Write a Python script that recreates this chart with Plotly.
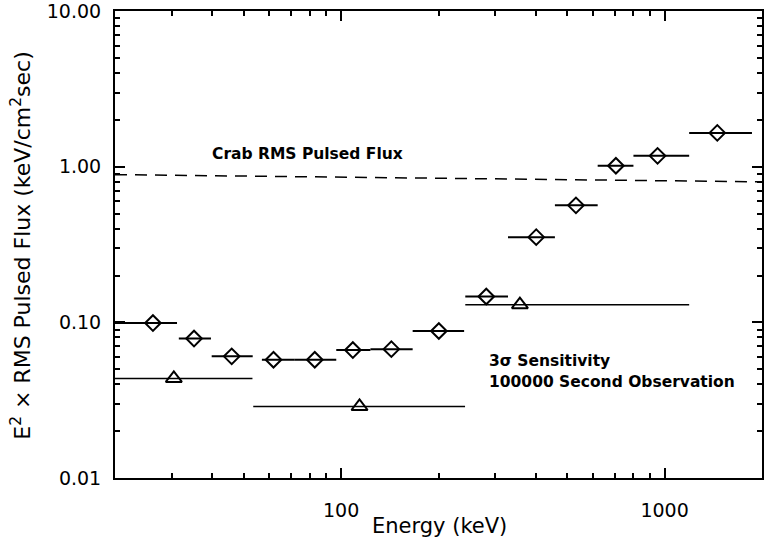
import plotly.graph_objects as go

# Pulsed flux measurements (diamonds)
energy_diamond = [26.2, 35.1, 45.9, 61.8, 82.9, 108.7, 143, 200.5, 281, 401, 532, 707, 951, 1455]
flux_diamond = [0.099, 0.0787, 0.0605, 0.0575, 0.0575, 0.0664, 0.0673, 0.088, 0.1466, 0.353, 0.565, 1.015, 1.175, 1.65]
bin_lo = [20, 31.5, 39.8, 56.9, 71.6, 96.6, 123.2, 166.4, 242, 328, 458, 621, 801, 1191]
bin_hi = [31.1, 39.6, 53.3, 71.6, 96.6, 123.2, 166.4, 240, 328, 458, 621, 801, 1191, 1862]

# 3 sigma sensitivity (triangles)
sens_energy = [30.4, 114, 357]
sens_flux = [0.0436, 0.0288, 0.130]
sens_lo = [20, 53.5, 242]
sens_hi = [53.2, 241.6, 1191]

# Crab RMS pulsed flux (dashed)
crab_energy = [20, 2000]
crab_flux = [0.89, 0.80]

y_tickvals = [0.01, 0.1, 1, 10]
y_ticktext = ["0.01", "0.10", "1.00", "10.00"]
x_tickvals = [100, 1000]
x_ticktext = ["100", "1000"]

FONT = "DejaVu Sans"

fig = go.Figure()

fig.add_trace(go.Scatter(
    x=crab_energy, y=crab_flux, mode="lines",
    line=dict(color="black", width=1.5, dash="12px,8px"),
    showlegend=False, hoverinfo="skip"))

fig.add_trace(go.Scatter(
    x=sens_energy, y=sens_flux, mode="markers",
    marker=dict(symbol="triangle-up-open", size=14, color="black", line=dict(width=2, color="black")),
    error_x=dict(type="data", symmetric=False,
                 array=[h - e for h, e in zip(sens_hi, sens_energy)],
                 arrayminus=[e - l for e, l in zip(sens_energy, sens_lo)],
                 width=0, thickness=1.5, color="black"),
    showlegend=False))

fig.add_trace(go.Scatter(
    x=energy_diamond, y=flux_diamond, mode="markers",
    marker=dict(symbol="diamond-open", size=12, color="black", line=dict(width=2, color="black")),
    error_x=dict(type="data", symmetric=False,
                 array=[h - e for h, e in zip(bin_hi, energy_diamond)],
                 arrayminus=[e - l for e, l in zip(energy_diamond, bin_lo)],
                 width=0, thickness=2, color="black"),
    showlegend=False))

axis_common = dict(
    type="log", showgrid=False, zeroline=False,
    showline=True, linecolor="black", linewidth=2, mirror="ticks",
    ticks="inside", ticklen=10, tickwidth=1.5, tickcolor="black",
    tickfont=dict(family=FONT, size=19, color="black"),
    ticklabeloverflow="allow",
    minor=dict(ticks="inside", ticklen=5, tickwidth=1.5, tickcolor="black", dtick="D1", showgrid=False),
)

fig.update_xaxes(range=[1.30103, 3.30103], tickvals=x_tickvals, ticktext=x_ticktext,
                 ticklabelstandoff=14, **axis_common)
fig.update_yaxes(range=[-2, 1.0008], tickvals=y_tickvals, ticktext=y_ticktext,
                 ticklabelstandoff=8, **axis_common)

annotations = [
    dict(text="Energy (keV)", x=0.5008, y=-0.102, xref="paper", yref="paper",
         xanchor="center", yanchor="middle", showarrow=False,
         font=dict(family=FONT, size=21, color="black")),
    dict(text="E<sup>2</sup> × RMS Pulsed Flux (keV/cm<sup>2</sup>sec)", x=-0.1448, y=0.498,
         xref="paper", yref="paper", xanchor="center", yanchor="middle", textangle=-90,
         showarrow=False, font=dict(family=FONT, size=22, color="black")),
    dict(text="<b>Crab RMS Pulsed Flux</b>", x=0.1464, y=0.694, xref="paper", yref="paper",
         xanchor="left", yanchor="middle", showarrow=False,
         font=dict(family=FONT, size=15.5, color="black")),
    dict(text="<b>3σ Sensitivity</b>", x=0.5747, y=0.2505, xref="paper", yref="paper",
         xanchor="left", yanchor="middle", showarrow=False,
         font=dict(family=FONT, size=15.5, color="black")),
    dict(text="<b>100000 Second Observation</b>", x=0.5747, y=0.206, xref="paper", yref="paper",
         xanchor="left", yanchor="middle", showarrow=False,
         font=dict(family=FONT, size=15.5, color="black")),
]

fig.update_layout(
    width=764, height=546,
    margin=dict(l=115, r=0, t=7, b=68, pad=0),
    paper_bgcolor="white", plot_bgcolor="white",
    annotations=annotations, showlegend=False,
)

fig.write_html("out.html")
